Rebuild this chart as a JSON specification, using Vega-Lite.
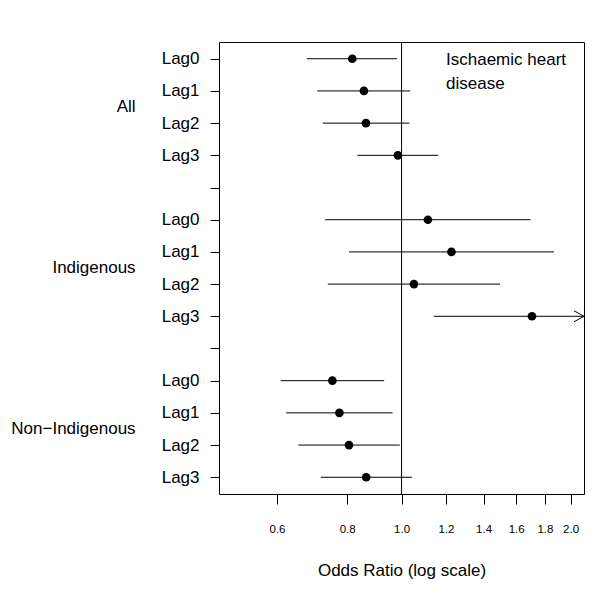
{
  "$schema": "https://vega.github.io/schema/vega-lite/v6.json",
  "autosize": "none",
  "width": 365,
  "height": 452,
  "padding": {"left": 219, "top": 42, "right": 16, "bottom": 105},
  "background": "white",
  "config": {
    "view": {"stroke": "black", "strokeWidth": 1},
    "font": "Liberation Sans",
    "axis": {"labelFont": "Liberation Sans", "titleFont": "Liberation Sans", "labelColor": "black", "tickColor": "black", "titleColor": "black", "grid": false, "domain": false, "titleFontWeight": "normal"}
  },
  "datasets": {
    "est": [
      {"group": "All", "lag": "Lag0", "row": 1, "or": 0.817, "lo": 0.678, "hi": 0.982, "arrow": false},
      {"group": "All", "lag": "Lag1", "row": 2, "or": 0.857, "lo": 0.708, "hi": 1.036, "arrow": false},
      {"group": "All", "lag": "Lag2", "row": 3, "or": 0.864, "lo": 0.724, "hi": 1.033, "arrow": false},
      {"group": "All", "lag": "Lag3", "row": 4, "or": 0.985, "lo": 0.834, "hi": 1.162, "arrow": false},
      {"group": "Indigenous", "lag": "Lag0", "row": 6, "or": 1.114, "lo": 0.731, "hi": 1.697, "arrow": false},
      {"group": "Indigenous", "lag": "Lag1", "row": 7, "or": 1.227, "lo": 0.806, "hi": 1.868, "arrow": false},
      {"group": "Indigenous", "lag": "Lag2", "row": 8, "or": 1.052, "lo": 0.739, "hi": 1.497, "arrow": false},
      {"group": "Indigenous", "lag": "Lag3", "row": 9, "or": 1.707, "lo": 1.141, "hi": 2.113, "arrow": true},
      {"group": "Non-Indigenous", "lag": "Lag0", "row": 11, "or": 0.753, "lo": 0.609, "hi": 0.931, "arrow": false},
      {"group": "Non-Indigenous", "lag": "Lag1", "row": 12, "or": 0.775, "lo": 0.623, "hi": 0.964, "arrow": false},
      {"group": "Non-Indigenous", "lag": "Lag2", "row": 13, "or": 0.806, "lo": 0.655, "hi": 0.993, "arrow": false},
      {"group": "Non-Indigenous", "lag": "Lag3", "row": 14, "or": 0.865, "lo": 0.718, "hi": 1.044, "arrow": false}
    ],
    "groups": [
      {"label": "All", "gx": 0.336, "gy": 2.5},
      {"label": "Indigenous", "gx": 0.336, "gy": 7.5},
      {"label": "Non\u2212Indigenous", "gx": 0.336, "gy": 12.5}
    ],
    "note": [
      {"label": "Ischaemic heart\ndisease", "nx": 1.2, "ny": 1.2}
    ],
    "ref": [{"ref": 1, "row": 1}]
  },
  "layer": [
    {
      "data": {"name": "ref"},
      "mark": {"type": "rule", "color": "black", "strokeWidth": 1},
      "encoding": {
        "x": {"field": "ref", "type": "quantitative", "scale": {"type": "log", "domain": [0.473, 2.113], "nice": false, "zero": false},
          "axis": {"title": "Odds Ratio (log scale)", "values": [0.6, 0.8, 1.0, 1.2, 1.4, 1.6, 1.8, 2.0], "format": ".1f", "labelFontSize": 11.5, "tickSize": 10, "labelPadding": 19, "titleFontSize": 17, "titlePadding": 28, "labelFlush": false, "labelOverlap": false}}
      }
    },
    {
      "data": {"name": "est"},
      "mark": {"type": "rule", "color": "black", "strokeWidth": 1},
      "encoding": {
        "x": {"field": "lo", "type": "quantitative", "scale": {"type": "log", "domain": [0.473, 2.113], "nice": false, "zero": false},
          "axis": {"title": "Odds Ratio (log scale)", "values": [0.6, 0.8, 1.0, 1.2, 1.4, 1.6, 1.8, 2.0], "format": ".1f", "labelFontSize": 11.5, "tickSize": 10, "labelPadding": 19, "titleFontSize": 17, "titlePadding": 28, "labelFlush": false, "labelOverlap": false}},
        "x2": {"field": "hi"},
        "y": {"field": "row", "type": "quantitative", "scale": {"domain": [0.48, 14.52], "reverse": true, "nice": false, "zero": false},
          "axis": {"title": null, "values": [1, 2, 3, 4, 5, 6, 7, 8, 9, 10, 11, 12, 13, 14], "labelExpr": "datum.value % 5 == 0 ? '' : 'Lag' + (datum.value % 5 - 1)", "labelFontSize": 17, "tickSize": 9, "labelPadding": 11, "labelBaseline": "middle", "labelFlush": false, "labelOverlap": false}}
      }
    },
    {
      "data": {"name": "est"},
      "mark": {"type": "point", "shape": "circle", "filled": true, "color": "black", "opacity": 1, "size": 75},
      "encoding": {
        "x": {"field": "or", "type": "quantitative", "scale": {"type": "log", "domain": [0.473, 2.113], "nice": false, "zero": false},
          "axis": {"title": "Odds Ratio (log scale)", "values": [0.6, 0.8, 1.0, 1.2, 1.4, 1.6, 1.8, 2.0], "format": ".1f", "labelFontSize": 11.5, "tickSize": 10, "labelPadding": 19, "titleFontSize": 17, "titlePadding": 28, "labelFlush": false, "labelOverlap": false}},
        "y": {"field": "row", "type": "quantitative", "scale": {"domain": [0.48, 14.52], "reverse": true, "nice": false, "zero": false},
          "axis": {"title": null, "values": [1, 2, 3, 4, 5, 6, 7, 8, 9, 10, 11, 12, 13, 14], "labelExpr": "datum.value % 5 == 0 ? '' : 'Lag' + (datum.value % 5 - 1)", "labelFontSize": 17, "tickSize": 9, "labelPadding": 11, "labelBaseline": "middle", "labelFlush": false, "labelOverlap": false}}
      }
    },
    {
      "data": {"name": "est"},
      "transform": [{"filter": "datum.arrow"}],
      "mark": {"type": "point", "shape": "M-1,-0.55L0,0L-1,0.55", "filled": false, "color": "black", "opacity": 1, "strokeWidth": 1, "size": 400},
      "encoding": {
        "x": {"field": "hi", "type": "quantitative", "scale": {"type": "log", "domain": [0.473, 2.113], "nice": false, "zero": false},
          "axis": {"title": "Odds Ratio (log scale)", "values": [0.6, 0.8, 1.0, 1.2, 1.4, 1.6, 1.8, 2.0], "format": ".1f", "labelFontSize": 11.5, "tickSize": 10, "labelPadding": 19, "titleFontSize": 17, "titlePadding": 28, "labelFlush": false, "labelOverlap": false}},
        "y": {"field": "row", "type": "quantitative", "scale": {"domain": [0.48, 14.52], "reverse": true, "nice": false, "zero": false},
          "axis": {"title": null, "values": [1, 2, 3, 4, 5, 6, 7, 8, 9, 10, 11, 12, 13, 14], "labelExpr": "datum.value % 5 == 0 ? '' : 'Lag' + (datum.value % 5 - 1)", "labelFontSize": 17, "tickSize": 9, "labelPadding": 11, "labelBaseline": "middle", "labelFlush": false, "labelOverlap": false}}
      }
    },
    {
      "data": {"name": "groups"},
      "mark": {"type": "text", "align": "right", "baseline": "middle", "fontSize": 17, "font": "Liberation Sans", "color": "black"},
      "encoding": {
        "x": {"field": "gx", "type": "quantitative", "scale": {"type": "log", "domain": [0.473, 2.113], "nice": false, "zero": false},
          "axis": {"title": "Odds Ratio (log scale)", "values": [0.6, 0.8, 1.0, 1.2, 1.4, 1.6, 1.8, 2.0], "format": ".1f", "labelFontSize": 11.5, "tickSize": 10, "labelPadding": 19, "titleFontSize": 17, "titlePadding": 28, "labelFlush": false, "labelOverlap": false}},
        "y": {"field": "gy", "type": "quantitative", "scale": {"domain": [0.48, 14.52], "reverse": true, "nice": false, "zero": false},
          "axis": {"title": null, "values": [1, 2, 3, 4, 5, 6, 7, 8, 9, 10, 11, 12, 13, 14], "labelExpr": "datum.value % 5 == 0 ? '' : 'Lag' + (datum.value % 5 - 1)", "labelFontSize": 17, "tickSize": 9, "labelPadding": 11, "labelBaseline": "middle", "labelFlush": false, "labelOverlap": false}},
        "text": {"field": "label"}
      }
    },
    {
      "data": {"name": "note"},
      "mark": {"type": "text", "align": "left", "baseline": "alphabetic", "fontSize": 17, "font": "Liberation Sans", "color": "black", "lineBreak": "\n", "lineHeight": 24},
      "encoding": {
        "x": {"field": "nx", "type": "quantitative", "scale": {"type": "log", "domain": [0.473, 2.113], "nice": false, "zero": false},
          "axis": {"title": "Odds Ratio (log scale)", "values": [0.6, 0.8, 1.0, 1.2, 1.4, 1.6, 1.8, 2.0], "format": ".1f", "labelFontSize": 11.5, "tickSize": 10, "labelPadding": 19, "titleFontSize": 17, "titlePadding": 28, "labelFlush": false, "labelOverlap": false}},
        "y": {"field": "ny", "type": "quantitative", "scale": {"domain": [0.48, 14.52], "reverse": true, "nice": false, "zero": false},
          "axis": {"title": null, "values": [1, 2, 3, 4, 5, 6, 7, 8, 9, 10, 11, 12, 13, 14], "labelExpr": "datum.value % 5 == 0 ? '' : 'Lag' + (datum.value % 5 - 1)", "labelFontSize": 17, "tickSize": 9, "labelPadding": 11, "labelBaseline": "middle", "labelFlush": false, "labelOverlap": false}},
        "text": {"field": "label"}
      }
    }
  ]
}
